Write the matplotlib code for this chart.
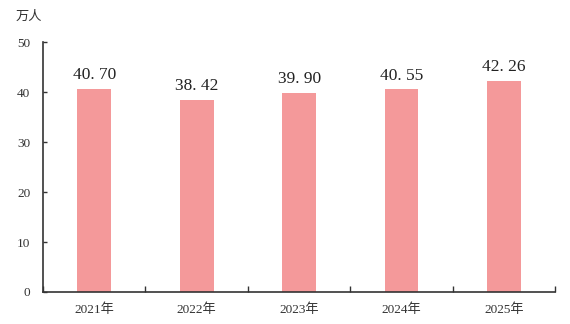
import matplotlib
matplotlib.use("Agg")
import matplotlib.pyplot as plt

years = ["2021年", "2022年", "2023年", "2024年", "2025年"]
values = [40.70, 38.42, 39.90, 40.55, 42.26]
labels = ["40. 70", "38. 42", "39. 90", "40. 55", "42. 26"]
yticks = [0, 10, 20, 30, 40, 50]
unit = "万人"

fam = ["Liberation Serif", "Noto Sans CJK SC"]
plt.rcParams["font.family"] = fam

fig = plt.figure(figsize=(5.7, 3.24), dpi=100)
ax = fig.add_axes([0.0754, 0.0988, 0.8986, 0.7712])

x = list(range(len(years)))
bars = ax.bar(x, values, width=0.33, color="#F4999A", zorder=2)
for xi, v, lab in zip(x, values, labels):
    ax.text(xi, v + 1.1, lab, ha="center", va="bottom", fontsize=12.5,
            color="#222222", family=fam)

ax.set_xlim(-0.5, len(years) - 0.5)
ax.set_ylim(0, 50)
ax.set_yticks(yticks)
ax.set_yticklabels([str(t) for t in yticks], fontsize=9.5, color="#333333")
ax.set_xticks(x)
ax.set_xticklabels(years, fontsize=9.5, color="#333333")
ax.set_xticks([i - 0.5 for i in range(len(years) + 1)], minor=True)
ax.tick_params(axis="x", which="major", length=0, pad=8)
ax.tick_params(axis="x", which="minor", direction="in", length=4, width=1, color="#333333")
ax.tick_params(axis="y", direction="in", length=3, width=1, color="#333333", pad=9)

for s in ["top", "right"]:
    ax.spines[s].set_visible(False)
for s in ["left", "bottom"]:
    ax.spines[s].set_color("#333333")
    ax.spines[s].set_linewidth(1.2)

fig.text(16 / 570, 1 - 16 / 324, unit, fontsize=9.5, color="#333333",
         ha="left", va="center", family=["Noto Sans CJK SC"])

fig.savefig("out.png", dpi=100)
